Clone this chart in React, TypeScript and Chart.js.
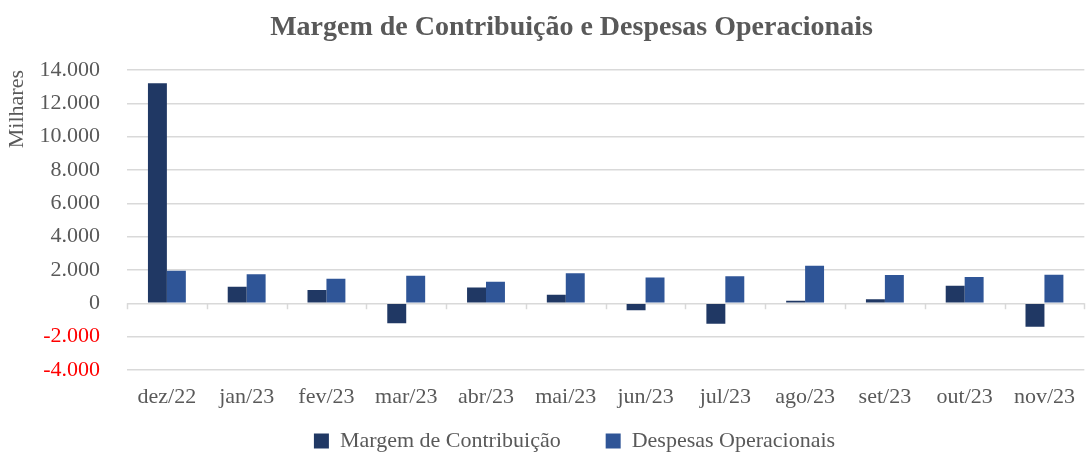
import React, { useEffect, useRef } from "react";
import { Chart, registerables } from "chart.js";

Chart.register(...registerables);

const categories = ["dez/22", "jan/23", "fev/23", "mar/23", "abr/23", "mai/23", "jun/23", "jul/23", "ago/23", "set/23", "out/23", "nov/23"];
const margemContribuicao = [13200, 1000, 800, -1200, 950, 520, -420, -1220, 150, 250, 1050, -1400];
const despesasOperacionais = [1950, 1750, 1480, 1650, 1300, 1800, 1550, 1620, 2250, 1700, 1580, 1720];
const yMin = -4000;
const yMax = 14000;
const yStep = 2000;

const FONT = "'Liberation Serif', 'Times New Roman', serif";
const GREY = "#595959";
const GRID = "#d9d9d9";

function fmt(v: number): string {
  const s = Math.abs(v).toFixed(0).replace(/\B(?=(\d{3})+(?!\d))/g, ".");
  return (v < 0 ? "-" : "") + s;
}

const zeroTicks = {
  id: "zeroTicks",
  beforeDatasetsDraw(chart: any) {
    const y = chart.scales.y.getPixelForValue(0);
    const { left, right } = chart.chartArea;
    const n = categories.length;
    const ctx = chart.ctx;
    ctx.save();
    ctx.strokeStyle = GRID;
    ctx.lineWidth = 1.5;
    ctx.beginPath();
    for (let i = 0; i <= n; i++) {
      const x = Math.round(left + (i * (right - left)) / n) + 0.5;
      ctx.moveTo(x, y);
      ctx.lineTo(x, y + 6);
    }
    ctx.stroke();
    ctx.restore();
  },
};

const shiftBoxes = {
  id: "shiftBoxes",
  afterLayout(chart: any) {
    const t = chart.titleBlock;
    if (t) {
      t.left += 27;
      t.right += 27;
    }
    const l = chart.legend;
    if (l) {
      l.left += 30;
      l.right += 30;
      l.top = 385;
      l.bottom = 456;
    }
  },
};

export default function App() {
  const ref = useRef<HTMLCanvasElement | null>(null);
  useEffect(() => {
    document.body.style.margin = "0";
    const chart = new Chart(ref.current as HTMLCanvasElement, {
      type: "bar",
      data: {
        labels: categories,
        datasets: [
          { label: "Margem de Contribuição", data: margemContribuicao, backgroundColor: "#203864", categoryPercentage: 0.475, barPercentage: 1.0 },
          { label: "Despesas Operacionais", data: despesasOperacionais, backgroundColor: "#2f5597", categoryPercentage: 0.475, barPercentage: 1.0 },
        ],
      },
      options: {
        animation: false,
        responsive: false,
        layout: { padding: { left: 0, right: 0, top: 0, bottom: 0 } },
        plugins: {
          title: {
            display: true,
            text: "Margem de Contribuição e Despesas Operacionais",
            color: GREY,
            font: { family: FONT, size: 28, weight: "bold" },
            padding: { top: 11, bottom: 25.4 },
          },
          legend: {
            position: "bottom",
            maxHeight: 40,
            labels: {
              color: GREY,
              font: { family: FONT, size: 22 },
              boxWidth: 15,
              boxHeight: 15,
              padding: 45,
            },
          },
          tooltip: { enabled: false },
        },
        scales: {
          x: {
            afterFit(scale: any) {
              scale.height = 46;
            },
            grid: { display: false, drawTicks: false },
            border: { display: false },
            ticks: { color: GREY, font: { family: FONT, size: 22 }, padding: 14, maxRotation: 0, autoSkip: false },
          },
          y: {
            min: yMin,
            max: yMax,
            afterFit(scale: any) {
              scale.width = 127;
            },
            grid: { color: GRID, lineWidth: 1.5, drawTicks: false },
            border: { display: false },
            ticks: {
              stepSize: yStep,
              padding: 27,
              font: { family: FONT, size: 22 },
              color: (c: any) => (c.tick && c.tick.value < 0 ? "#ff0000" : GREY),
              callback: (v: any) => fmt(Number(v)),
            },
            title: {
              display: true,
              text: "Milhares",
              align: "end",
              color: GREY,
              font: { family: FONT, size: 22 },
              padding: { top: 4, bottom: 0 },
            },
          },
        },
      },
      plugins: [zeroTicks, shiftBoxes],
    } as any);
    return () => chart.destroy();
  }, []);
  return <canvas ref={ref} width={1089} height={456} style={{ display: "block" }} />;
}
